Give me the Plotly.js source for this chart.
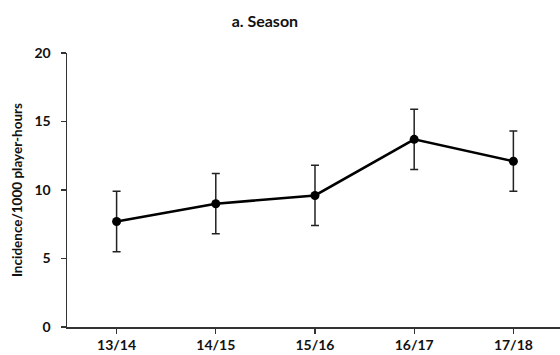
<!DOCTYPE html>
<html>
<head>
<meta charset="utf-8">
<script src="https://cdn.plot.ly/plotly-3.0.1.min.js"></script>
<style>
  html, body { margin: 0; padding: 0; background: #fff; }
  #chart { width: 560px; height: 355px; }
</style>
</head>
<body>
<div id="chart"></div>
<script>
// Injury incidence by season, with error bars
const seasons = ["13/14", "14/15", "15/16", "16/17", "17/18"];
const incidence = [7.7, 9.0, 9.6, 13.7, 12.1];
const errorHalfWidth = [2.2, 2.2, 2.2, 2.2, 2.2];
const yTicks = [0, 5, 10, 15, 20];

const fontFamily = "Lato, 'Open Sans', sans-serif";

const trace = {
  x: seasons,
  y: incidence,
  type: "scatter",
  mode: "lines+markers",
  line: { color: "#000", width: 2.6 },
  marker: { color: "#000", size: 9 },
  error_y: {
    type: "data",
    array: errorHalfWidth,
    visible: true,
    color: "#222",
    thickness: 1.5,
    width: 4
  },
  hoverinfo: "skip"
};

const layout = {
  width: 560,
  height: 355,
  margin: { l: 67, r: 0, t: 53, b: 28 },
  paper_bgcolor: "#fff",
  plot_bgcolor: "#fff",
  showlegend: false,
  title: {
    text: "<b>a. Season</b>",
    font: { family: fontFamily, size: 16, color: "#111" },
    x: 0.473,
    xref: "container",
    xanchor: "center",
    y: 0.94,
    yref: "container",
    yanchor: "middle"
  },
  xaxis: {
    type: "category",
    range: [-0.5, 4.47],
    showline: true,
    linecolor: "#333",
    linewidth: 1.5,
    showgrid: false,
    zeroline: false,
    ticks: "outside",
    ticklen: 5,
    tickwidth: 1.2,
    tickcolor: "#333",
    tickfont: { family: fontFamily, size: 14, color: "#111", weight: "bold" },
    fixedrange: true
  },
  yaxis: {
    range: [0, 20],
    tickvals: yTicks,
    ticktext: yTicks.map(String),
    showline: true,
    linecolor: "#333",
    linewidth: 1.5,
    showgrid: false,
    zeroline: false,
    ticks: "outside",
    ticklen: 5,
    tickwidth: 1.2,
    tickcolor: "#333",
    ticklabelstandoff: 7,
    tickfont: { family: fontFamily, size: 14, color: "#111", weight: "bold" },
    title: {
      text: "<b>Incidence/1000 player-hours</b>",
      font: { family: fontFamily, size: 13.5, color: "#111" },
      standoff: 8
    },
    fixedrange: true
  }
};

Plotly.newPlot("chart", [trace], layout, { displayModeBar: false, staticPlot: true });
</script>
</body>
</html>
